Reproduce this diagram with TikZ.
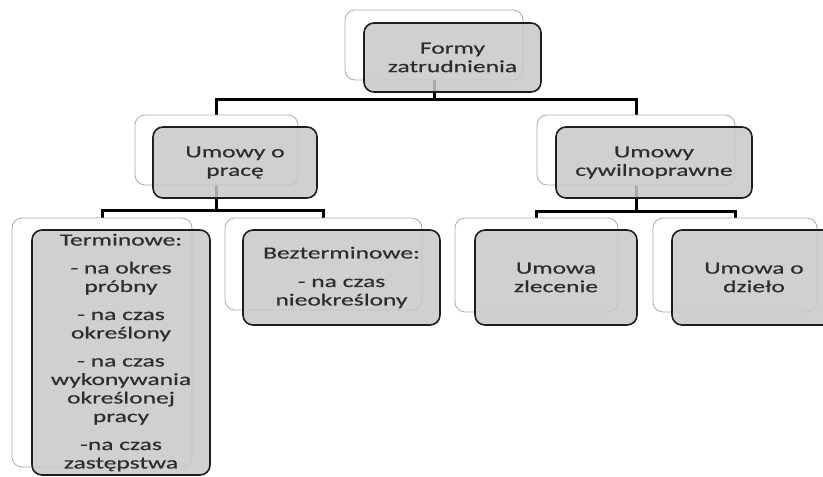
\documentclass[tikz,border=0pt]{standalone}
\usepackage{fontspec}
\setmainfont{Carlito}[FakeStretch=1.5,FakeBold=0.5]
\definecolor{txt}{RGB}{45,45,45}
\definecolor{backline}{RGB}{170,170,170}
\definecolor{frontline}{RGB}{30,30,30}
\definecolor{frontfill}{RGB}{200,200,200}
\pgfdeclarelayer{bg}
\pgfdeclarelayer{links}
\pgfsetlayers{bg,links,main}
\tikzset{
  backbox/.style={draw=backline, fill=white, line width=0.8pt, rounded corners=10pt, inner sep=0pt},
  frontbox/.style={draw=frontline, fill=frontfill, fill opacity=0.85, text opacity=1, line width=1.6pt,
    rounded corners=10pt, inner sep=0pt, align=center, text=txt, font=\fontsize{17}{18.5}\selectfont},
  conn/.style={line width=3pt, draw=black}
}
\begin{document}
\begin{tikzpicture}[x=1pt,y=-1pt]
\clip (0,0) rectangle (823,477);
\begin{pgfonlayer}{bg}
\fill[white] (0,0) rectangle (823,477);
\end{pgfonlayer}
% top
\node[backbox, minimum width=178pt, minimum height=70pt] (topB) at (434,45) {};
\node[frontbox, minimum width=177pt, minimum height=69pt] (topF) at (452.5,57.5) {Formy\\zatrudnienia};
% level 2
\node[backbox, minimum width=163pt, minimum height=70pt] (pracaB) at (216.5,150) {};
\node[frontbox, minimum width=164pt, minimum height=71pt] (pracaF) at (235,162.5) {Umowy o\\pracę};
\node[backbox, minimum width=198pt, minimum height=70pt] (cywB) at (636,150) {};
\node[frontbox, minimum width=196pt, minimum height=71pt] (cywF) at (654,162.5) {Umowy\\cywilnoprawne};
% level 3
\node[backbox, minimum width=180pt, minimum height=249pt] (termB) at (102,342.5) {};
\node[frontbox, minimum width=178pt, minimum height=245pt] (termF) at (121,352.5)
  {Terminowe:\\[9.5pt]- na okres\\próbny\\[9.5pt]- na czas\\określony\\[9.5pt]- na czas\\wykonywania\\określonej\\pracy\\[9.5pt]-na czas\\zastępstwa};
\node[backbox, minimum width=197pt, minimum height=92pt] (bezB) at (323.5,264) {};
\node[frontbox, minimum width=197pt, minimum height=95pt] (bezF) at (341.5,277.5)
  {Bezterminowe:\\[10pt]- na czas\\nieokreślony};
\node[backbox, minimum width=163pt, minimum height=94pt] (zlecB) at (536.5,265) {};
\node[frontbox, minimum width=162pt, minimum height=95pt] (zlecF) at (556,277.5) {Umowa\\zlecenie};
\node[backbox, minimum width=164pt, minimum height=94pt] (dzieB) at (735,265) {};
\node[frontbox, minimum width=164pt, minimum height=95pt] (dzieF) at (754,277.5) {Umowa o\\dzieło};
% connectors
\begin{pgfonlayer}{links}
\coordinate (bus1) at (434,99);
\coordinate (bus2) at (216.5,210);
\coordinate (bus3) at (636,211);
\draw[conn] (topB.south) -- (bus1) -| (pracaB.north);
\draw[conn] (bus1) -| (cywB.north);
\draw[conn] (pracaB.south) -- (bus2) -| (termB.north);
\draw[conn] (bus2) -| (bezB.north);
\draw[conn] (cywB.south) -- (bus3) -| (zlecB.north);
\draw[conn] (bus3) -| (dzieB.north);
\end{pgfonlayer}
\end{tikzpicture}
\end{document}
